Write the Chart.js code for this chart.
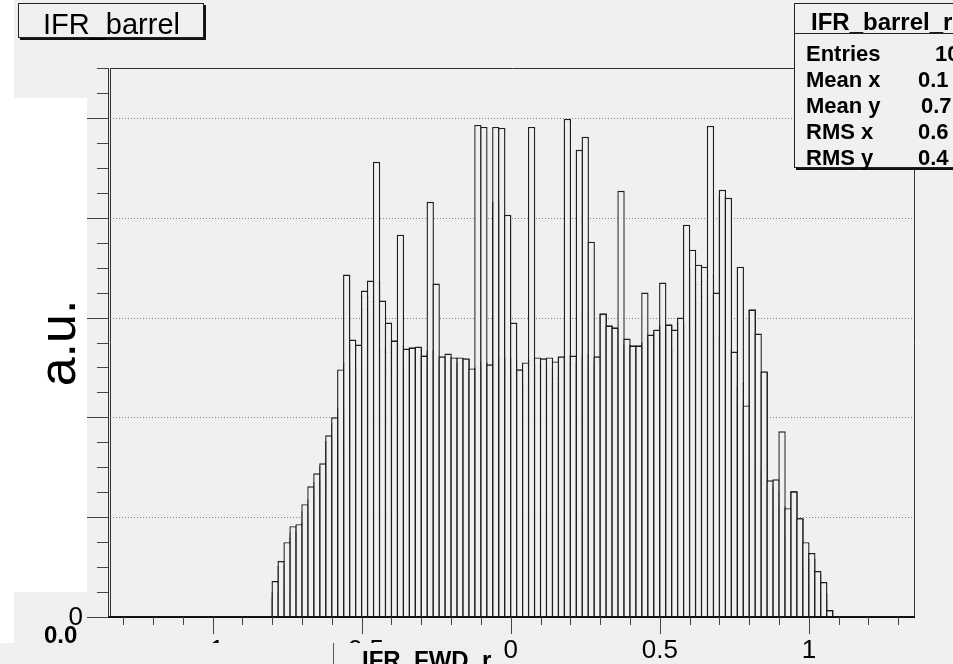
<!DOCTYPE html>
<html>
<head>
<meta charset="utf-8">
<script src="https://cdn.jsdelivr.net/npm/chart.js@4.4.1/dist/chart.umd.min.js"></script>
<style>
  html, body { margin: 0; padding: 0; background: #f0f0f0; overflow: hidden; }
  canvas { display: block; }
</style>
</head>
<body>
<canvas id="hist" width="953" height="664"></canvas>
<script>
// bin centres (0.02 wide bins)
const binCenters = [
  -0.79, -0.77, -0.75, -0.73, -0.71, -0.69, -0.67, -0.65, -0.63, -0.61,
  -0.59, -0.57, -0.55, -0.53, -0.51, -0.49, -0.47, -0.45, -0.43, -0.41,
  -0.39, -0.37, -0.35, -0.33, -0.31, -0.29, -0.27, -0.25, -0.23, -0.21,
  -0.19, -0.17, -0.15, -0.13, -0.11, -0.09, -0.07, -0.05, -0.03, -0.01,
  0.01, 0.03, 0.05, 0.07, 0.09, 0.11, 0.13, 0.15, 0.17, 0.19,
  0.21, 0.23, 0.25, 0.27, 0.29, 0.31, 0.33, 0.35, 0.37, 0.39,
  0.41, 0.43, 0.45, 0.47, 0.49, 0.51, 0.53, 0.55, 0.57, 0.59,
  0.61, 0.63, 0.65, 0.67, 0.69, 0.71, 0.73, 0.75, 0.77, 0.79,
  0.81, 0.83, 0.85, 0.87, 0.89, 0.91, 0.93, 0.95, 0.97, 0.99,
  1.01, 1.03, 1.05, 1.07
];

// histogram with the spikes (outer outline)
const upperHist = [
  0.36, 0.56, 0.75, 0.91, 0.93, 1.13, 1.31, 1.44, 1.54, 1.82,
  2.00, 2.48, 3.43, 2.78, 2.73, 3.27, 3.37, 4.56, 3.17, 2.95,
  2.77, 3.83, 2.69, 2.70, 2.71, 2.62, 4.16, 3.34, 2.61, 2.64,
  2.60, 2.60, 2.59, 2.49, 4.93, 4.91, 2.53, 4.91, 4.90, 4.03,
  2.95, 2.48, 2.55, 4.91, 2.60, 2.59, 2.60, 2.56, 2.61, 4.99,
  2.62, 4.68, 4.81, 3.76, 2.61, 3.04, 2.92, 2.90, 4.27, 2.79,
  2.72, 2.72, 3.25, 2.83, 2.88, 3.35, 2.93, 2.88, 3.00, 3.93,
  3.68, 3.53, 3.51, 4.92, 3.25, 4.28, 4.20, 2.66, 3.51, 2.12,
  3.08, 2.84, 2.46, 1.37, 1.38, 1.86, 1.09, 1.26, 0.99, 0.75,
  0.64, 0.46, 0.35, 0.07
];

// smoother histogram
const lowerHist = [
  0.25, 0.51, 0.28, 0.80, 0.86, 0.95, 1.03, 1.28, 1.35, 1.76,
  1.61, 1.74, 2.54, 2.49, 2.44, 3.09, 3.17, 3.36, 2.69, 2.66,
  2.77, 2.72, 2.67, 2.70, 2.68, 2.55, 2.67, 2.55, 2.61, 2.56,
  2.53, 2.48, 2.59, 2.43, 2.50, 2.55, 2.53, 4.16, 2.60, 2.60,
  2.44, 2.48, 2.33, 2.58, 2.52, 2.59, 2.34, 2.34, 2.61, 2.62,
  2.55, 2.59, 2.63, 2.52, 2.61, 3.04, 2.92, 2.90, 2.73, 2.73,
  2.72, 2.72, 2.75, 2.80, 2.84, 2.92, 2.93, 2.70, 2.95, 2.93,
  3.49, 3.34, 3.37, 3.42, 2.81, 4.22, 2.68, 2.30, 2.35, 2.08,
  3.08, 1.47, 2.46, 1.30, 1.10, 1.11, 0.82, 1.26, 0.99, 0.47,
  0.58, 0.35, 0.24, 0.07
];

// third overlaid histogram (extra steps inside the bars)
const thirdHist = [
  0.19, 0.11, 0.28, 0.85, 0.86, 1.06, 1.18, 1.35, 1.51, 1.76,
  1.94, 2.10, 1.96, 2.73, 2.70, 3.22, 3.21, 3.36, 2.69, 2.49,
  2.77, 2.46, 2.67, 2.70, 2.69, 2.62, 2.67, 2.51, 2.61, 2.61,
  2.55, 2.55, 2.59, 2.43, 2.50, 2.55, 2.53, 4.16, 2.60, 2.60,
  2.59, 2.48, 2.33, 2.58, 2.53, 2.59, 2.49, 2.40, 2.61, 2.62,
  2.55, 2.59, 2.63, 2.52, 2.61, 3.04, 2.92, 2.90, 2.73, 2.73,
  2.72, 2.72, 2.75, 2.80, 2.86, 2.92, 2.93, 2.70, 2.95, 2.93,
  3.49, 3.15, 3.22, 3.22, 2.81, 4.22, 2.52, 2.12, 1.73, 1.61,
  3.08, 1.47, 2.46, 1.30, 1.26, 0.68, 0.62, 1.26, 0.99, 0.47,
  0.26, 0.43, 0.17, 0.07
];

const xTickValues = [-1, -0.5, 0, 0.5, 1];
const xTickLabels = ['-1', '-0.5', '0', '0.5', '1'];
const yGridValues = [1, 2, 3, 4, 5];
const statLabels = ['Entries', 'Mean x', 'Mean y', 'RMS x', 'RMS y'];
const statValues = ['10', '0.1', '0.7', '0.6', '0.4'];

const FONT = '"Liberation Sans", Arial, Helvetica, sans-serif';

function seg(c, x1, y1, x2, y2) {
  c.beginPath(); c.moveTo(x1, y1); c.lineTo(x2, y2); c.stroke();
}

const rootStyle = {
  id: 'rootStyle',
  beforeDraw(chart) {
    const c = chart.ctx;
    c.save();
    c.fillStyle = '#f0f0f0';
    c.fillRect(0, 0, chart.width, chart.height);
    c.fillStyle = '#ffffff';
    c.fillRect(0, 0, 14, 643);
    c.fillRect(14, 98, 73, 494);
    c.restore();
  },
  beforeDatasetsDraw(chart) {
    const c = chart.ctx, a = chart.chartArea, y = chart.scales.y;
    c.save();
    c.strokeStyle = '#858585';
    c.lineWidth = 1;
    c.setLineDash([1, 2]);
    yGridValues.forEach(v => {
      const py = Math.round(y.getPixelForValue(v)) + 0.5;
      seg(c, a.left, py, a.right, py);
    });
    c.restore();
  },
  afterDraw(chart) {
    const c = chart.ctx, a = chart.chartArea, x = chart.scales.x, y = chart.scales.y;
    c.save();
    // frame
    c.strokeStyle = '#333';
    c.lineWidth = 1;
    seg(c, a.left, a.top + 0.5, a.right, a.top + 0.5);
    seg(c, a.right - 0.5, a.top, a.right - 0.5, a.bottom);
    seg(c, a.left - 1.5, a.top, a.left - 1.5, a.bottom + 1);
    seg(c, a.left + 0.5, a.top, a.left + 0.5, a.bottom);
    c.strokeStyle = '#111';
    c.lineWidth = 2;
    seg(c, a.left - 2, a.bottom, a.right, a.bottom);

    // y ticks (outside, to the left)
    c.strokeStyle = '#444';
    c.lineWidth = 1;
    for (let v = 0; v <= y.max + 1e-6; v += 0.25) {
      const py = Math.round(y.getPixelForValue(v)) + 0.5;
      const major = Math.abs(v - Math.round(v)) < 1e-6;
      seg(c, major ? a.left - 23 : a.left - 13, py, a.left - 2, py);
    }
    // x ticks (below)
    for (let i = -13; i <= 13; i++) {
      const px = Math.round(x.getPixelForValue(i / 10)) + 0.5;
      const major = i % 5 === 0;
      seg(c, px, a.bottom, px, a.bottom + (major ? 17 : 8));
    }
    // x tick labels
    c.fillStyle = '#000';
    c.font = '26px ' + FONT;
    c.textAlign = 'center';
    c.textBaseline = 'top';
    xTickValues.forEach((v, i) => {
      c.fillText(xTickLabels[i], x.getPixelForValue(v), 638);
    });
    // zero label on y axis
    c.textAlign = 'right';
    c.textBaseline = 'middle';
    c.fillText('0', 83, a.bottom + 1);
    c.font = 'bold 24px ' + FONT;
    c.textAlign = 'left';
    c.textBaseline = 'alphabetic';
    c.fillText('0.0', 44, 643);

    // y axis title
    c.save();
    c.translate(75, 343);
    c.rotate(-Math.PI / 2);
    c.font = '52px ' + FONT;
    c.textAlign = 'center';
    c.fillStyle = '#000';
    c.fillText('a.u.', 0, 0);
    c.restore();

    // title box
    c.fillStyle = '#111';
    c.fillRect(20, 5, 186, 35);
    c.fillStyle = '#f0f0f0';
    c.fillRect(18, 3, 186, 35);
    c.strokeStyle = '#222';
    c.lineWidth = 1;
    c.strokeRect(18.5, 3.5, 185, 34);
    c.fillStyle = '#000';
    c.font = '29px ' + FONT;
    c.textAlign = 'left';
    c.fillText('IFR_barrel', 43, 34);

    // stats box
    c.fillStyle = '#111';
    c.fillRect(796, 5, 200, 165);
    c.fillStyle = '#f0f0f0';
    c.fillRect(794, 3, 200, 164);
    c.strokeStyle = '#222';
    c.strokeRect(794.5, 3.5, 200, 164);
    seg(c, 794, 33.5, 953, 33.5);
    c.fillStyle = '#000';
    c.font = 'bold 24px ' + FONT;
    c.fillText('IFR_barrel_r', 811, 30);
    c.font = 'bold 22px ' + FONT;
    const rowY = [61, 87, 113, 139, 165];
    const valX = [935, 918, 921, 918, 918];
    statLabels.forEach((s, i) => {
      c.fillText(s, 806, rowY[i]);
      c.fillText(statValues[i], valX[i], rowY[i]);
    });

    // bottom strip
    c.fillStyle = '#efefef';
    c.fillRect(0, 643, 492, 21);
    c.strokeStyle = '#555';
    seg(c, 333.5, 643, 333.5, 664);
    c.fillStyle = '#000';
    c.font = 'bold 24px ' + FONT;
    c.fillText('IFR_FWD_r', 362, 668);
    c.restore();
  }
};

// bars wider than the bin by one border so neighbouring outlines share one line
const barStyle = {
  borderWidth: 1.4,
  inflateAmount: 0,
  grouped: false,
  barPercentage: 1.235,
  categoryPercentage: 1
};

function histSet(label, values, line, fill) {
  return Object.assign({
    label: label,
    data: binCenters.map((v, i) => ({ x: v, y: values[i] })),
    borderColor: line,
    backgroundColor: fill
  }, barStyle);
}

new Chart(document.getElementById('hist'), {
  type: 'bar',
  data: {
    datasets: [
      histSet('upper', upperHist, '#1e1e1e', '#f0f0f0'),
      histSet('third', thirdHist, '#3c3c3c', 'rgba(0,0,0,0)'),
      histSet('lower', lowerHist, '#000', 'rgba(0,0,0,0)')
    ]
  },
  options: {
    responsive: false,
    animation: false,
    devicePixelRatio: 1,
    layout: { padding: { left: 110, top: 68, right: 38, bottom: 47 } },
    plugins: { legend: { display: false }, tooltip: { enabled: false } },
    scales: {
      x: { type: 'linear', offset: false, min: -1.344, max: 1.356, display: false },
      y: { min: 0, max: 5.5, display: false }
    }
  },
  plugins: [rootStyle]
});
</script>
</body>
</html>
